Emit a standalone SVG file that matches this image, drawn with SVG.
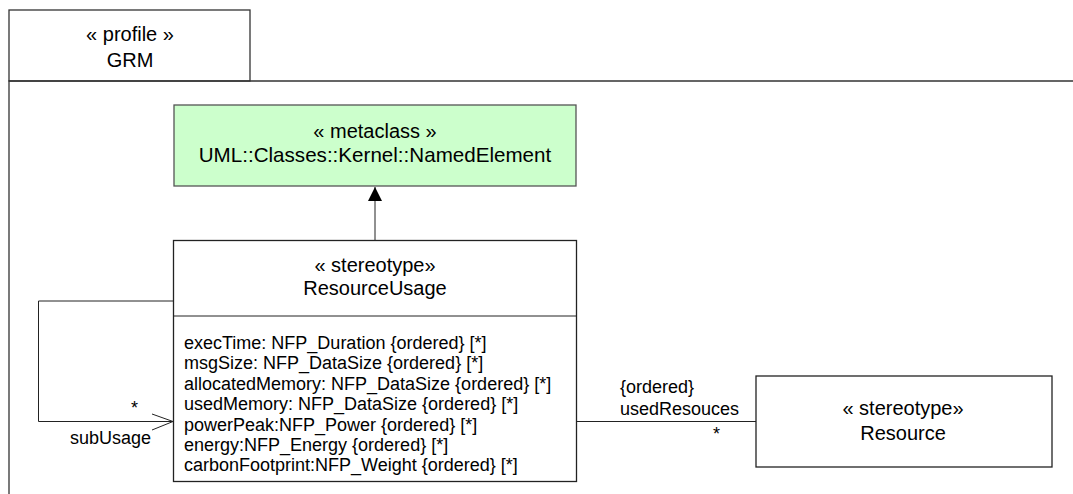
<svg xmlns="http://www.w3.org/2000/svg" width="1073" height="494" viewBox="0 0 1073 494">
<style>
text{font-family:"Liberation Sans",Arial,sans-serif;fill:#000}
.t20{font-size:20px;text-anchor:middle}
.t18{font-size:18px}
.frame{fill:none;stroke:#333;stroke-width:1.3}
.box{fill:#fff;stroke:#222;stroke-width:1.3}
.line{fill:none;stroke:#222;stroke-width:1}
</style>
<defs>
<marker id="tri" markerWidth="16" markerHeight="24" refX="14" refY="7" orient="auto" markerUnits="userSpaceOnUse">
<path d="M0,0 L14,7 L0,14 Z" fill="#000"/>
</marker>
</defs>
<g id="profile">
<rect x="9" y="10" width="241" height="71" class="frame" fill="#fff"/>
<path d="M9,495 V81 H1075" class="frame"/>
<text class="t20" x="130" y="41">« profile »</text>
<text class="t20" x="130" y="67">GRM</text>
</g>
<g id="named-element">
<rect x="174" y="105" width="402" height="81" fill="#ccffcc" stroke="#555" stroke-width="1.3"/>
<text class="t20" x="375" y="138">« metaclass »</text>
<text class="t20" x="375" y="162" style="font-size:20.6px">UML::Classes::Kernel::NamedElement</text>
</g>
<g id="resource-usage">
<rect x="173.5" y="240.5" width="403" height="241" class="box"/>
<line x1="173.5" y1="316" x2="576.5" y2="316" class="line"/>
<text class="t20" x="375" y="272">« stereotype»</text>
<text class="t20" x="375" y="295">ResourceUsage</text>
<g class="t18">
<text x="184" y="349">execTime: NFP_Duration {ordered} [*]</text>
<text x="184" y="369.4">msgSize: NFP_DataSize {ordered} [*]</text>
<text x="184" y="389.8">allocatedMemory: NFP_DataSize {ordered} [*]</text>
<text x="184" y="410.2">usedMemory: NFP_DataSize {ordered} [*]</text>
<text x="184" y="430.6">powerPeak:NFP_Power {ordered} [*]</text>
<text x="184" y="451">energy:NFP_Energy {ordered} [*]</text>
<text x="184" y="471.4">carbonFootprint:NFP_Weight {ordered} [*]</text>
</g>
</g>
<g id="resource">
<rect x="756" y="376" width="296" height="91" class="box"/>
<text class="t20" x="903" y="415">« stereotype»</text>
<text class="t20" x="903" y="440">Resource</text>
</g>
<g id="connectors">
<line x1="375" y1="240" x2="375" y2="187" class="line" marker-end="url(#tri)"/>
<path d="M173,301 H38.5 V421.5 H173" class="line"/>
<path d="M152,414 L173,421.5 L152,430" class="line"/>
<line x1="577" y1="421.5" x2="756" y2="421.5" class="line"/>
<text class="t18" x="131" y="414">*</text>
<text class="t18" x="70" y="444">subUsage</text>
<text class="t18" x="620" y="393">{ordered}</text>
<text class="t18" x="620" y="415">usedResouces</text>
<text class="t18" x="713" y="440">*</text>
</g>
</svg>
